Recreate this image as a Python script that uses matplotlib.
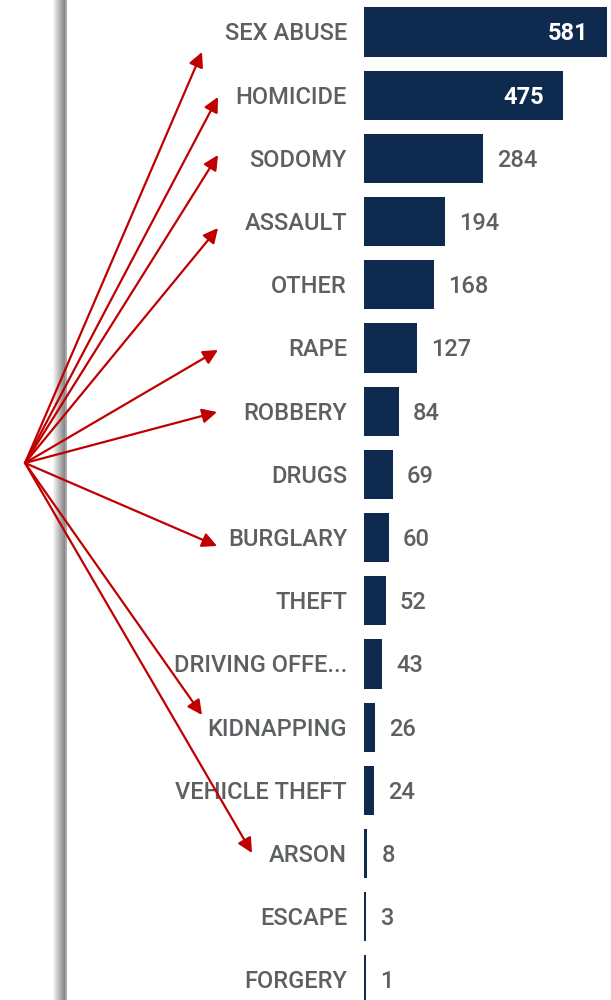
import numpy as np
import matplotlib
matplotlib.use('Agg')
import matplotlib.pyplot as plt

categories = ['SEX ABUSE', 'HOMICIDE', 'SODOMY', 'ASSAULT', 'OTHER', 'RAPE', 'ROBBERY',
              'DRUGS', 'BURGLARY', 'THEFT', 'DRIVING OFFE...', 'KIDNAPPING',
              'VEHICLE THEFT', 'ARSON', 'ESCAPE', 'FORGERY']
counts = [581, 475, 284, 194, 168, 127, 84, 69, 60, 52, 43, 26, 24, 8, 3, 1]

# arrow tips (pixel x, pixel y in a 611x1000 image) and the shared origin
arrow_origin = (25, 463)
arrow_tips = [(202, 52), (218, 97), (218, 155), (218, 228), (218, 350),
              (217, 412), (217, 546), (202, 715), (252, 853)]

W, H = 611, 1000
navy = '#0f2a4f'
gray = '#5d6062'
red = '#c00000'
plt.rcParams['font.family'] = ['Roboto', 'DejaVu Sans']

fig = plt.figure(figsize=(W/100, H/100), dpi=100)
fig.patch.set_facecolor('white')

# bar axes: x=0 at pixel 364, 581 at pixel 607
x0, x581 = 364, 607
ax = fig.add_axes([x0/W, 0, (W-x0)/W, 1])
ppu = (x581-x0)/581
ax.set_xlim(0, (W-x0)/ppu)
row0, step = 32, 63.2
ax.set_ylim((H-row0)/step, -row0/step)
ax.axis('off')

y = np.arange(len(categories))
widths = [max(c, 2.2/ppu) for c in counts]
ax.barh(y, widths, height=0.78, color=navy)

dy = 2/step  # labels sit a touch below bar centre
for i, (cat, c) in enumerate(zip(categories, counts)):
    ax.text(-17/ppu, i + dy, cat, ha='right', va='center', fontsize=17, color=gray,
            fontweight='medium', clip_on=False)
    if c > 400:
        ax.text(c - 19/ppu, i + dy, str(c), ha='right', va='center', fontsize=17,
                color='white', fontweight='bold')
    else:
        ax.text(max(c, 2.2/ppu) + 14/ppu, i + dy, str(c), ha='left', va='center',
                fontsize=17, color=gray, fontweight='medium')

# shadowed vertical edge on the left
sh = fig.add_axes([52/W, 0, 15/W, 1])
grad = np.linspace(1.0, 0.6, 15)[None, :] ** 1.5
grad[:, -2:] = 0.66
sh.imshow(np.repeat(grad, 10, axis=0), cmap='gray', vmin=0, vmax=1, aspect='auto',
          extent=[0, 1, 0, 1])
sh.axis('off')

# red arrows
ov = fig.add_axes([0, 0, 1, 1])
ov.set_xlim(0, W)
ov.set_ylim(H, 0)
ov.axis('off')
ov.patch.set_alpha(0)
for tx, ty in arrow_tips:
    ov.annotate('', xy=(tx, ty), xytext=arrow_origin,
                arrowprops=dict(arrowstyle='-|>', color=red, lw=1.6,
                                mutation_scale=22, shrinkA=0, shrinkB=0))

fig.savefig('out.png', dpi=100)
